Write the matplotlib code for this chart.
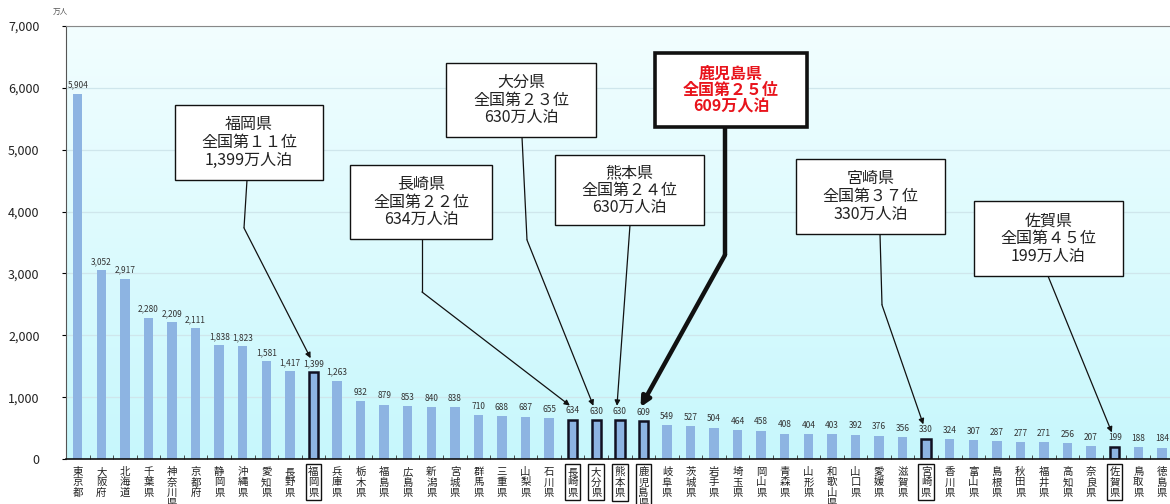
import numpy as np
import matplotlib
matplotlib.use('Agg')
from matplotlib import pyplot as plt
from matplotlib.patches import Rectangle

plt.rcParams['font.family'] = ['Noto Sans CJK JP', 'DejaVu Sans']

# prefectures, sorted by overnight stays (10,000 person-nights)
prefs = ['東京都', '大阪府', '北海道', '千葉県', '神奈川県', '京都府', '静岡県', '沖縄県',
         '愛知県', '長野県', '福岡県', '兵庫県', '栃木県', '福島県', '広島県', '新潟県',
         '宮城県', '群馬県', '三重県', '山梨県', '石川県', '長崎県', '大分県', '熊本県',
         '鹿児島県', '岐阜県', '茨城県', '岩手県', '埼玉県', '岡山県', '青森県', '山形県',
         '和歌山県', '山口県', '愛媛県', '滋賀県', '宮崎県', '香川県', '富山県', '島根県',
         '秋田県', '福井県', '高知県', '奈良県', '佐賀県', '鳥取県', '徳島県']
values = [5904, 3052, 2917, 2280, 2209, 2111, 1838, 1823, 1581, 1417, 1399, 1263, 932,
          879, 853, 840, 838, 710, 688, 687, 655, 634, 630, 630, 609, 549, 527, 504, 464,
          458, 408, 404, 403, 392, 376, 356, 330, 324, 307, 287, 277, 271, 256, 207, 199,
          188, 184]
highlight = ['福岡県', '長崎県', '大分県', '熊本県', '鹿児島県', '宮崎県', '佐賀県']

# callout boxes: prefecture, text, box (x0, x1, y0, y1 in page pixels), leader path points
callouts = [
    ('福岡県', '福岡県\n全国第１１位\n1,399万人泊', (175, 323, 105, 180), [(247, 180), (244, 228)]),
    ('長崎県', '長崎県\n全国第２２位\n634万人泊', (350, 492, 165, 239), [(422, 239), (422, 292)]),
    ('大分県', '大分県\n全国第２３位\n630万人泊', (446, 596, 63, 137), [(522, 137), (527, 240)]),
    ('熊本県', '熊本県\n全国第２４位\n630万人泊', (555, 704, 155, 225), [(630, 225)]),
    ('鹿児島県', '鹿児島県\n全国第２５位\n609万人泊', (655, 807, 53, 127), [(725, 127), (725, 255)]),
    ('宮崎県', '宮崎県\n全国第３７位\n330万人泊', (796, 945, 159, 234), [(880, 234), (882, 305)]),
    ('佐賀県', '佐賀県\n全国第４５位\n199万人泊', (974, 1123, 201, 276), [(1048, 276)]),
]

W, H = 1170, 504
AX_L, AX_R, AX_T, AX_B = 66, 1173.6, 26, 459

fig = plt.figure(figsize=(11.7, 5.04), dpi=100)
fig.patch.set_facecolor('white')
ax = fig.add_axes([AX_L / W, 1 - AX_B / H, (AX_R - AX_L) / W, (AX_B - AX_T) / H])

n = len(prefs)
x = np.arange(n)
ax.set_xlim(-0.5, n - 0.5)

# gradient background
grad = np.linspace(0, 1, 256).reshape(-1, 1)
top = np.array([0.78, 0.97, 0.99])
bot = np.array([0.95, 0.995, 1.0])
img = top * (1 - grad[..., None]) + bot * grad[..., None]
ax.imshow(img, aspect='auto', extent=(-0.5, n - 0.5, 7000, 0), zorder=0)
ax.set_ylim(0, 7000)

for yv in range(1000, 7001, 1000):
    ax.axhline(yv, color='#cfe6ec', lw=0.9, zorder=1)

bar_col = '#8DB4E2'
for i, (p, v) in enumerate(zip(prefs, values)):
    hl = p in highlight
    ax.bar(i, v, width=0.4, color=bar_col, zorder=2,
           edgecolor='#111122' if hl else 'none', linewidth=1.8 if hl else 0)
    ax.text(i, v + 70, f'{v:,}', ha='center', va='bottom', fontsize=6,
            color='#333333', zorder=3)

# axes styling
ax.set_yticks(range(0, 7001, 1000))
ax.set_yticklabels([f'{t:,}' for t in range(0, 7001, 1000)], fontsize=9, color='#222222')
ax.tick_params(axis='y', length=3, pad=16)
ax.set_xticks(x)
ax.set_xticklabels([])
ax.tick_params(axis='x', length=0)
ax.set_xticks(np.arange(0.5, n - 0.5, 1), minor=True)
ax.tick_params(axis='x', which='minor', length=3, direction='in', color='#333333')
for s in ['top', 'right']:
    ax.spines[s].set_color('#888888')
    ax.spines[s].set_linewidth(0.8)
ax.spines['left'].set_color('#555555')
ax.spines['bottom'].set_color('#111111')
ax.spines['bottom'].set_linewidth(1.2)

# vertical category labels (long names run off the bottom, as in the source)
for i, p in enumerate(prefs):
    hl = p in highlight
    ax.text(i, -130, '\n'.join(p), ha='center', va='top', fontsize=7.5,
            linespacing=1.05, color='#222222', clip_on=False,
            bbox=dict(boxstyle='square,pad=0.25', fc='none', ec='#111111', lw=1.0) if hl else None)

fig.text(60 / W, 1 - 12 / H, '万人', fontsize=5.5, color='#555555', ha='center', va='center')


def px2data(px, py):
    xd = -0.5 + (px - AX_L) / (AX_R - AX_L) * n
    yd = (AX_B - py) / (AX_B - AX_T) * 7000
    return xd, yd


for p, txt, (x0, x1, y0, y1), pts in callouts:
    kago = p == '鹿児島県'
    bx0, by1 = px2data(x0, y0)
    bx1, by0 = px2data(x1, y1)
    ax.add_patch(Rectangle((bx0, by0), bx1 - bx0, by1 - by0, fc='white', ec='#111111',
                           lw=2.6 if kago else 1.0, zorder=5, clip_on=False))
    ax.text((bx0 + bx1) / 2, (by0 + by1) / 2, txt, ha='center', va='center',
            fontsize=11.5, linespacing=1.05, zorder=6,
            color='#e8141c' if kago else '#222222',
            fontweight='bold' if kago else 'normal')
    idx = prefs.index(p)
    v = values[idx]
    dpts = [px2data(*q) for q in pts]
    lw = 3.2 if kago else 0.9
    if len(dpts) > 1:
        ax.plot([q[0] for q in dpts], [q[1] for q in dpts], color='#111111', lw=lw,
                zorder=4, solid_capstyle='butt')
    start = dpts[-1]
    end = (idx - 0.12, v + 230)
    ax.annotate('', xy=end, xytext=start, zorder=4,
                arrowprops=dict(arrowstyle='-|>', color='#111111', lw=lw,
                                mutation_scale=14 if kago else 8,
                                shrinkA=0, shrinkB=0))

fig.savefig('out.png', dpi=100)
